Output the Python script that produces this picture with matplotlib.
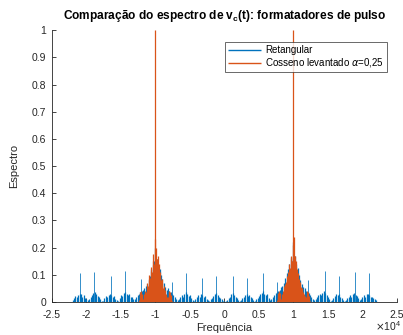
import numpy as np
import matplotlib
matplotlib.use('Agg')
import matplotlib.pyplot as plt

plt.rcParams['font.family'] = ['Liberation Sans', 'DejaVu Sans']

# espectro do pulso retangular (grade de 200 Hz, -22 kHz a 22 kHz)
ret_f0 = -22000
ret_df = 200
ret_mag = [
    0.008, 0.015, 0.022, 0.018, 0.025, 0.030, 0.028, 0.020, 0.024, 0.015,
    0.010, 0.006, 0.012, 0.020, 0.026, 0.032, 0.035, 0.028, 0.022, 0.018,
    0.012, 0.005, 0.004, 0.014, 0.022, 0.019, 0.027, 0.030, 0.024, 0.018,
    0.021, 0.012, 0.006, 0.004, 0.015, 0.026, 0.022, 0.034, 0.038, 0.030,
    0.024, 0.028, 0.018, 0.020, 0.012, 0.010, 0.018, 0.024, 0.030, 0.036,
    0.040, 0.045, 0.050, 0.060, 0.065, 0.080, 0.095, 0.120, 0.135, 0.150,
    0.200, 0.160, 0.140, 0.120, 0.100, 0.085, 0.070, 0.055, 0.045, 0.050,
    0.040, 0.035, 0.030, 0.025, 0.020, 0.012, 0.006, 0.010, 0.018, 0.024,
    0.020, 0.030, 0.036, 0.028, 0.022, 0.026, 0.015, 0.008, 0.005, 0.012,
    0.020, 0.026, 0.018, 0.030, 0.025, 0.018, 0.022, 0.012, 0.006, 0.004,
    0.010, 0.016, 0.022, 0.030, 0.034, 0.026, 0.020, 0.016, 0.010, 0.005,
    0.003,
    0.004, 0.008, 0.014, 0.020, 0.028, 0.032, 0.026, 0.020, 0.014, 0.008,
    0.004, 0.006, 0.014, 0.020, 0.024, 0.030, 0.022, 0.026, 0.018, 0.014,
    0.008, 0.004, 0.010, 0.016, 0.022, 0.028, 0.034, 0.040, 0.030, 0.024,
    0.028, 0.016, 0.008, 0.010, 0.020, 0.026, 0.034, 0.038, 0.040, 0.045,
    0.055, 0.060, 0.070, 0.090, 0.105, 0.120, 0.140, 0.165, 0.150, 0.220,
    0.170, 0.140, 0.125, 0.100, 0.080, 0.065, 0.055, 0.050, 0.040, 0.036,
    0.032, 0.026, 0.020, 0.012, 0.006, 0.010, 0.018, 0.024, 0.030, 0.026,
    0.034, 0.040, 0.032, 0.024, 0.018, 0.010, 0.004, 0.008, 0.016, 0.022,
    0.028, 0.024, 0.030, 0.020, 0.014, 0.008, 0.004, 0.006, 0.014, 0.018,
    0.024, 0.020, 0.030, 0.034, 0.026, 0.022, 0.014, 0.008, 0.012, 0.018,
    0.024, 0.020, 0.028, 0.030, 0.024, 0.018, 0.020, 0.014, 0.010, 0.006,
]
# raias do retangular
raia_f = [-20900, -18850, -16500, -14450, -12100, -7650, -5550, -3250, -1160,
          1200, 3300, 5650, 7650, 12100, 14500, 16550, 18950, 20950]
raia_mag = [0.105, 0.112, 0.097, 0.114, 0.083, 0.072, 0.105, 0.087, 0.096,
            0.096, 0.087, 0.106, 0.075, 0.080, 0.114, 0.096, 0.109, 0.105]

# cosseno levantado (grade de 100 Hz em torno de -10 kHz e +10 kHz)
cos_neg_f0 = -12500
cos_pos_f0 = 7500
cos_df = 100
cos_neg = [
    0.000, 0.008, 0.020, 0.035, 0.040, 0.030, 0.015, 0.010, 0.018, 0.030,
    0.042, 0.038, 0.055, 0.070, 0.060, 0.085, 0.100, 0.090, 0.115, 0.130,
    0.110, 0.150, 0.175, 0.140, 0.230, 1.000, 0.200, 0.160, 0.170, 0.120,
    0.140, 0.100, 0.110, 0.080, 0.070, 0.085, 0.050, 0.060, 0.040, 0.045,
    0.030, 0.020, 0.012, 0.020, 0.035, 0.042, 0.038, 0.025, 0.012, 0.005,
    0.000,
]
cos_pos = [
    0.000, 0.006, 0.018, 0.032, 0.042, 0.034, 0.016, 0.012, 0.020, 0.028,
    0.040, 0.045, 0.060, 0.065, 0.075, 0.080, 0.095, 0.110, 0.105, 0.140,
    0.125, 0.160, 0.170, 0.150, 0.210, 1.000, 0.240, 0.170, 0.150, 0.130,
    0.120, 0.090, 0.105, 0.085, 0.065, 0.075, 0.055, 0.050, 0.045, 0.035,
    0.028, 0.022, 0.014, 0.018, 0.030, 0.040, 0.036, 0.022, 0.010, 0.004,
    0.000,
]

xticks = [-25000, -20000, -15000, -10000, -5000, 0, 5000, 10000, 15000, 20000, 25000]
xlabels = ['-2.5', '-2', '-1.5', '-1', '-0.5', '0', '0.5', '1', '1.5', '2', '2.5']
yticks = [0, 0.1, 0.2, 0.3, 0.4, 0.5, 0.6, 0.7, 0.8, 0.9, 1]
ylabels = ['0', '0.1', '0.2', '0.3', '0.4', '0.5', '0.6', '0.7', '0.8', '0.9', '1']

azul = '#0072BD'
laranja = '#D95319'
cinza = '#262626'

ret_f = ret_f0 + ret_df * np.arange(len(ret_mag))
cos_nf = cos_neg_f0 + cos_df * np.arange(len(cos_neg))
cos_pf = cos_pos_f0 + cos_df * np.arange(len(cos_pos))

fig = plt.figure(figsize=(4.03, 3.35), dpi=100)
ax = fig.add_axes([0.129, 0.0985, 0.856, 0.8115])

ax.vlines(ret_f, 0, ret_mag, color=azul, lw=0.9, label='Retangular')
ax.vlines(raia_f, 0, raia_mag, color=azul, lw=0.7, alpha=0.8)
ax.vlines(cos_nf, 0, cos_neg, color=laranja, lw=0.9,
          label=r'Cosseno levantado $\alpha$=0,25')
ax.vlines(cos_pf, 0, cos_pos, color=laranja, lw=0.9)

ax.set_xlim(-25000, 25000)
ax.set_ylim(0, 1)
ax.set_xticks(xticks)
ax.set_xticklabels(xlabels)
ax.set_yticks(yticks)
ax.set_yticklabels(ylabels)
ax.tick_params(direction='in', length=3, width=0.6, labelsize=7.5,
               colors=cinza)
ax.tick_params(axis='x', pad=6)
ax.tick_params(axis='y', pad=4)
for s in ['top', 'right']:
    ax.spines[s].set_visible(False)
for s in ['left', 'bottom']:
    ax.spines[s].set_color(cinza)
    ax.spines[s].set_linewidth(0.6)

ax.set_title(r'Comparação do espectro de v$_\mathregular{c}$(t): formatadores de pulso',
             fontsize=8.6, fontweight='bold', color='black', pad=8)
ax.set_xlabel('Frequência', fontsize=8, color=cinza, labelpad=2)
ax.set_ylabel('Espectro', fontsize=8, color=cinza, labelpad=9)
ax.text(1.012, -0.062, r'$\times\mathregular{10^{4}}$', transform=ax.transAxes,
        ha='right', va='top', fontsize=7.5, color=cinza)

leg = ax.legend(loc='upper right', bbox_to_anchor=(0.971, 0.956), fontsize=7,
                frameon=True, fancybox=False, borderpad=0.3, handlelength=3.4,
                handletextpad=0.4, labelspacing=0.15, borderaxespad=0)
leg.get_frame().set_edgecolor('#262626')
leg.get_frame().set_linewidth(0.6)
for h in leg.legend_handles:
    h.set_linewidth(1.0)

fig.savefig('out.png', dpi=100)
